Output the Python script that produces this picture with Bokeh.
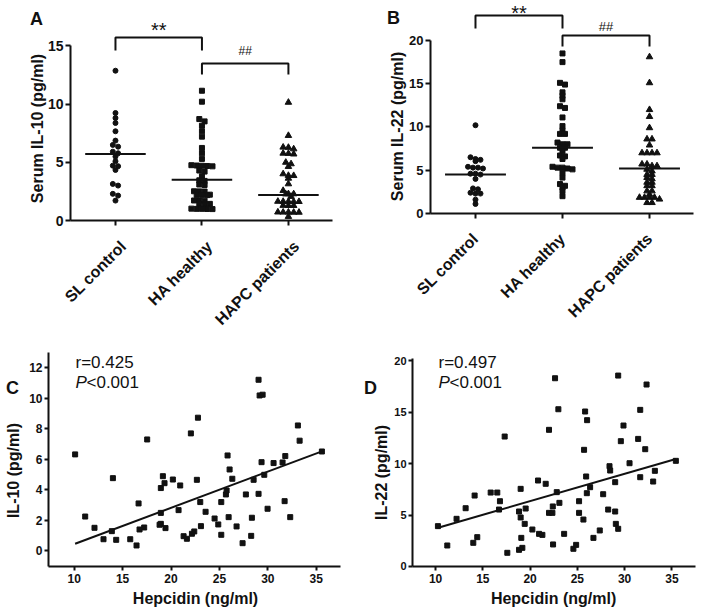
import math
from bokeh.plotting import figure
from bokeh.layouts import row, column
from bokeh.models import Label, FixedTicker
from bokeh.embed import file_html
from bokeh.resources import INLINE

INK = "#111111"
FONT = "Liberation Sans"

# ---------------- data ----------------
groups = ["SL control", "HA healthy", "HAPC patients"]
group_pos = [1, 2, 3]

il10_sl = [12.86, 9.23, 8.8, 8.37, 7.66, 6.86, 6.49, 6.34, 5.91, 5.77, 5.49, 5.09,
           4.71, 4.66, 4.34, 3.14, 3.0, 2.29, 2.14, 1.71]
il10_ha = [11.14, 10.2, 8.71, 8.51, 8.14, 7.66, 7.2, 6.23, 5.77, 5.29,
           4.75, 4.72, 4.7, 4.68, 4.65, 4.29, 4.2, 3.8, 3.45, 3.4,
           3.09, 3.05, 2.51, 2.5, 2.49, 2.22, 2.2, 2.2, 2.18, 1.72, 1.71, 1.7,
           1.43, 1.42, 1.4, 1.02, 1.0, 1.0, 0.99, 0.98]
il10_hapc = [10.14, 7.29, 6.29, 6.27, 6.14, 5.77, 5.75, 5.7, 4.99, 4.86, 4.63,
             4.0, 3.86, 3.85, 3.62, 3.14, 2.57, 2.29, 2.28, 2.27, 2.06,
             1.64, 1.63, 1.63, 1.62, 1.62, 1.29, 1.28, 1.28,
             0.72, 0.71, 0.71, 0.7, 0.7, 0.34]
il10_medians = [5.7, 3.5, 2.2]

il22_sl = [10.2, 6.5, 6.3, 6.2, 6.05, 5.4, 5.3, 5.3, 5.2, 4.6, 4.6, 4.5, 4.0,
           2.9, 2.8, 2.4, 2.3, 2.3, 1.6, 1.1]
il22_ha = [18.5, 17.5, 15.1, 14.9, 14.0, 13.6, 13.2, 12.4, 12.2, 11.1, 10.1, 9.6,
           9.2, 9.2, 8.2, 8.0, 8.0, 7.6, 7.6, 7.2, 6.7, 6.6, 6.3, 5.4, 5.3, 5.3,
           5.2, 5.1, 4.7, 4.15, 3.4, 3.2, 3.0, 2.6, 2.0]
il22_hapc = [18.1, 15.1, 12.0, 11.2, 9.9, 8.6, 8.6, 7.9, 7.0, 7.0, 7.0, 7.0,
             5.7, 5.7, 5.5, 5.5, 5.1, 4.9, 4.5, 4.5, 4.15, 4.0, 3.6, 3.6, 3.2,
             3.2, 2.6, 2.6, 2.2, 1.85, 1.85, 1.85, 1.85, 1.65, 1.25, 1.25]
il22_medians = [4.5, 7.6, 5.2]

hep_c = [10.1, 11.14, 12.1, 13.03, 13.89, 14.0, 14.34, 15.79, 16.44, 16.65, 16.75,
         17.23, 17.54, 18.95, 18.95, 18.82, 18.95, 19.16, 19.33, 19.43, 20.19,
         20.78, 20.95, 21.3, 21.64, 22.05, 22.16, 22.4, 22.67, 22.78, 23.02,
         23.09, 23.57, 24.5, 24.88, 25.19, 25.19, 25.67, 25.74, 25.84, 25.95,
         26.05, 26.33, 26.77, 27.39, 27.73, 28.35, 28.28, 28.53, 29.04, 29.04,
         29.15, 29.46, 29.35, 29.63, 29.97, 30.59, 31.52, 31.73, 31.8, 32.31,
         33.1, 33.28, 35.58]
il10_c = [6.31, 2.23, 1.49, 0.74, 1.27, 4.75, 0.70, 0.74, 0.33, 3.09, 1.38,
          1.51, 7.29, 4.10, 2.47, 1.69, 1.75, 4.88, 4.42, 1.47, 4.66,
          2.65, 4.27, 0.94, 0.77, 7.69, 1.10, 1.25, 4.64, 8.72, 3.18,
          1.60, 2.54, 2.10, 1.71, 3.18, 1.03, 3.68, 3.94, 6.24, 2.19,
          5.32, 4.71, 1.58, 0.48, 3.68, 2.15, 0.96, 4.64, 11.21, 3.72,
          10.18, 10.23, 5.80, 4.97, 2.74, 5.74, 5.78, 3.24, 6.2, 2.19,
          8.21, 7.21, 6.5]
fit_c_slope, fit_c_intercept = 0.238, -1.96
fit_c_x = [10.1, 35.58]
r_c = "r=0.425"

hep_d = [10.25, 11.24, 12.22, 13.18, 13.99, 14.13, 14.41, 15.83, 16.53, 16.81,
         16.71, 17.31, 17.59, 18.83, 19.0, 19.0, 19.07, 18.83, 19.18, 19.43,
         19.53, 20.24, 20.84, 20.95, 21.3, 21.65, 22.0, 22.0, 22.36, 22.4,
         22.43, 22.64, 22.82, 22.99, 23.1, 23.6, 24.58, 24.87, 25.18, 25.18,
         25.64, 25.71, 25.82, 25.93, 26.03, 26.0, 26.35, 26.7, 27.37, 27.73,
         28.26, 28.4, 28.47, 29.0, 29.0, 29.07, 29.32, 29.32, 29.6, 29.88,
         30.52, 31.43, 31.65, 31.65, 32.18, 32.32, 33.02, 33.2, 35.42]
il22_d = [3.92, 2.04, 4.63, 5.66, 2.30, 6.89, 2.85, 7.18, 7.18, 6.34,
          5.53, 12.62, 1.33, 5.34, 7.54, 4.76, 2.78, 1.62, 1.81, 4.14,
          5.63, 3.59, 8.35, 3.17, 3.07, 8.03, 13.27, 5.21, 5.21, 5.83,
          2.14, 18.28, 7.22, 15.27, 6.18, 3.17, 1.72, 2.10, 6.34, 5.21,
          4.56, 11.33, 15.05, 8.74, 14.21, 7.12, 7.70, 2.78, 3.50, 7.02,
          5.53, 9.74, 9.32, 8.19, 5.34, 4.14, 18.54, 3.66, 12.17, 13.69,
          10.03, 12.39, 8.67, 15.21, 11.39, 17.67, 8.25, 9.29, 10.26]
fit_d_slope, fit_d_intercept = 0.2655, 1.04
fit_d_x = [10.18, 35.42]
r_d = "r=0.497"


# ---------------- helpers ----------------
def swarm(values, center, tol, step):
    vals = sorted(values, reverse=True)
    xs, ys = [], []
    i = 0
    while i < len(vals):
        j = i
        while j < len(vals) and vals[i] - vals[j] < tol - 1e-9:
            j += 1
        n = j - i
        for k in range(n):
            xs.append(center + (k - (n - 1) / 2) * step)
            ys.append(vals[i + k])
        i = j
    return xs, ys


def style_axis(ax, size, lw=2, tick_out=5, standoff=2):
    ax.axis_line_width = lw
    ax.axis_line_color = INK
    ax.major_tick_line_width = lw
    ax.major_tick_line_color = INK
    ax.major_tick_out = tick_out
    ax.major_tick_in = 0
    ax.minor_tick_line_color = None
    ax.major_label_text_font = FONT
    ax.major_label_text_font_style = "bold"
    ax.major_label_text_font_size = size
    ax.major_label_text_color = INK
    ax.major_label_standoff = standoff


def base_fig(w, h, xr, yr):
    p = figure(width=w, height=h, x_range=xr, y_range=yr,
               output_backend="svg", toolbar_location=None,
               min_border_left=0, min_border_right=0,
               min_border_top=0, min_border_bottom=0)
    p.xgrid.visible = False
    p.ygrid.visible = False
    p.outline_line_color = None
    p.background_fill_color = "white"
    p.border_fill_color = "white"
    return p


def add_label(p, x, y, text, size, style="bold", angle=0.0, align="center",
              baseline="middle", x_offset=0):
    p.add_layout(Label(x=x, y=y, text=text, text_font=FONT,
                       text_font_size=size, text_font_style=style,
                       text_color=INK, angle=angle, text_align=align,
                       text_baseline=baseline, x_offset=x_offset))


def place_axes(p, x0, x1, y0, y1):
    p.yaxis.fixed_location = x0
    p.yaxis.bounds = (y0, y1)
    p.xaxis.fixed_location = y0
    p.xaxis.bounds = (x0, x1)


def dot_panel(p, data, medians, xspan, ytop, ticks, ylab, ylab_xy, letter,
              letter_xy, tol, step, tick_size, cat_dx, cat_dy):
    markers = ["circle", "square", "triangle"]
    msize = [5, 5, 6.5]
    for pos, vals, mk, ms in zip(group_pos, data, markers, msize):
        xs, ys = swarm(vals, pos, tol, step)
        p.scatter(xs, ys, marker=mk, size=ms, fill_color=INK, line_color=INK)
    p.segment(x0=[g - 0.35 for g in group_pos], x1=[g + 0.35 for g in group_pos],
              y0=medians, y1=medians, line_color=INK, line_width=2)
    place_axes(p, xspan[0], xspan[1], 0, ytop)
    p.yaxis.ticker = FixedTicker(ticks=ticks)
    p.xaxis.ticker = FixedTicker(ticks=group_pos)
    style_axis(p.yaxis[0], tick_size)
    style_axis(p.xaxis[0], "16px")
    p.xaxis.major_label_text_color = None
    for g, name in zip(group_pos, groups):
        add_label(p, g + cat_dx, cat_dy, name, "16px", angle=math.pi / 4,
                  align="right")
    add_label(p, ylab_xy[0], ylab_xy[1], ylab, "16px", angle=math.pi / 2)
    add_label(p, letter_xy[0], letter_xy[1], letter, "18px")


def bracket(p, x0, x1, ytop, ybot, text, size, ytext):
    p.line([x0, x0, x1, x1], [ybot, ytop, ytop, ybot], line_color=INK, line_width=2)
    add_label(p, (x0 + x1) / 2, ytext, text, size, style="normal")


# ---------------- panel A ----------------
pA = base_fig(352, 345, (-0.3295, 3.741), (-10.73, 18.887))
dot_panel(pA, [il10_sl, il10_ha, il10_hapc], il10_medians, (0.48, 3.51), 15,
          [0, 5, 10, 15], "Serum IL-10 (pg/ml)", (0.104, 7.9), "A", (0.086, 17.34),
          0.3, 0.061, "14px", 0.0925, -1.97)
bracket(pA, 1, 2, 15.71, 14.6, "**", "20px", 16.35)
bracket(pA, 2, 3, 13.48, 12.53, "##", "12px", 14.51)

# ---------------- panel B ----------------
pB = base_fig(352, 345, (-0.4135, 3.632), (-15.26, 24.62))
dot_panel(pB, [il22_sl, il22_ha, il22_hapc], il22_medians, (0.483, 3.506), 20,
          [0, 5, 10, 15, 20], "Serum IL-22 (pg/ml)", (0.103, 10.06), "B",
          (0.057, 22.54), 0.35, 0.0575, "13px", 0.0, -2.6)
bracket(pB, 1, 2, 22.89, 21.39, "**", "20px", 23.17)
bracket(pB, 2, 3, 20.58, 19.3, "##", "13px", 21.62)


# ---------------- correlation panels ----------------
def corr_panel(p, hx, hy, slope, intercept, fx, rtext, xspan, yspan, yticks,
               ylab, ylab_xy, xlab_xy, letter, letter_xy, rx, ry, py, ytick_size):
    p.scatter(hx, hy, marker="square", size=5, fill_color=INK, line_color=INK)
    p.line(fx, [slope * v + intercept for v in fx], line_color=INK, line_width=2)
    place_axes(p, xspan[0], xspan[1], yspan[0], yspan[1])
    p.xaxis.ticker = FixedTicker(ticks=[10, 15, 20, 25, 30, 35])
    p.yaxis.ticker = FixedTicker(ticks=yticks)
    style_axis(p.xaxis[0], "12px", tick_out=4, standoff=4)
    style_axis(p.yaxis[0], ytick_size, tick_out=4)
    add_label(p, xlab_xy[0], xlab_xy[1], "Hepcidin (ng/ml)", "16px")
    add_label(p, ylab_xy[0], ylab_xy[1], ylab, "16px", angle=math.pi / 2)
    add_label(p, letter_xy[0], letter_xy[1], letter, "18px")
    add_label(p, rx, ry, rtext, "17px", style="normal", align="left")
    add_label(p, rx, py, "P", "17px", style="italic", align="left")
    add_label(p, rx, py, "<0.001", "17px", style="normal", align="left", x_offset=11)


pC = base_fig(352, 268, (2.394, 38.74), (-4.137, 13.46))
corr_panel(pC, hep_c, il10_c, fit_c_slope, fit_c_intercept, fit_c_x, r_c,
           (7.35, 37.5), (-1.05, 13.0), [0, 2, 4, 6, 8, 10, 12],
           "IL-10 (pg/ml)", (3.74, 5.25), (22.53, -3.15), "C", (3.63, 10.7),
           10.14, 12.34, 11.03, "12px")

pD = base_fig(352, 268, (1.212, 38.45), (-4.564, 21.46))
corr_panel(pD, hep_d, il22_d, fit_d_slope, fit_d_intercept, fit_d_x, r_d,
           (7.56, 37.5), (0, 20.2), [0, 5, 10, 15, 20],
           "IL-22 (pg/ml)", (4.28, 9.13), (22.48, -3.11), "D", (3.12, 17.38),
           10.31, 19.81, 17.87, "11px")

layout = column(row(pA, pB), row(pC, pD))
open("out.html", "w").write(file_html(layout, INLINE))
